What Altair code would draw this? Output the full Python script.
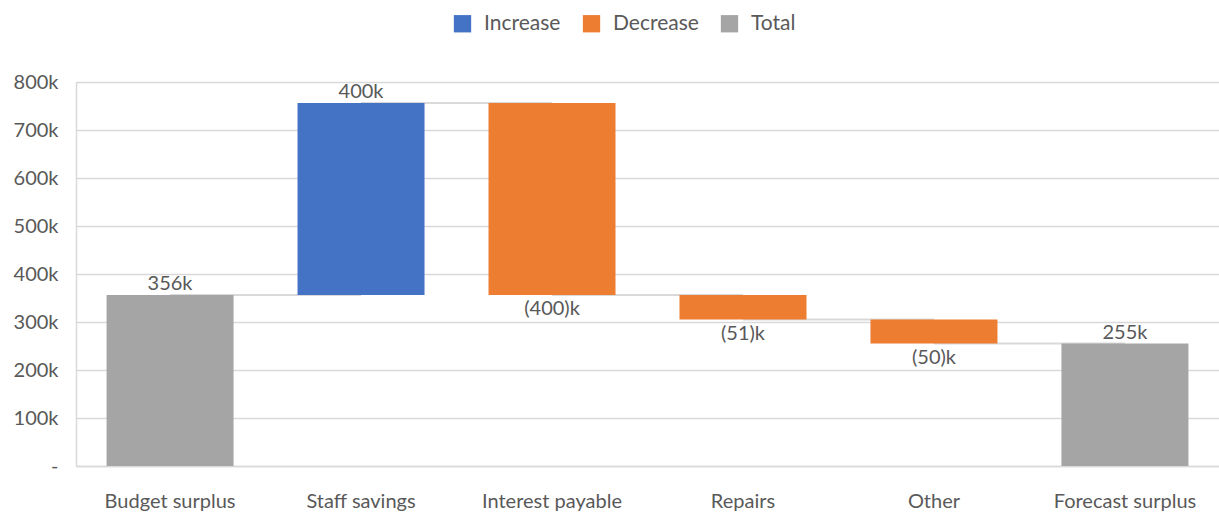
import altair as alt
import pandas as pd

categories = ["Budget surplus", "Staff savings", "Interest payable", "Repairs", "Other", "Forecast surplus"]
changes = [356000, 400000, -400000, -51000, -50000, 255000]
kinds = ["Total", "Increase", "Decrease", "Decrease", "Decrease", "Total"]
labels = ["356k", "400k", "(400)k", "(51)k", "(50)k", "255k"]

rows = []
running = 0
for cat, ch, kind, lab in zip(categories, changes, kinds, labels):
    if kind == "Total":
        start, end = 0, ch
        running = ch
    else:
        start = running
        end = running + ch
        running = end
    rows.append(dict(category=cat, start=start, end=end, kind=kind, label=lab,
                     top=max(start, end), bottom=min(start, end)))
df = pd.DataFrame(rows)

conn = pd.DataFrame([
    dict(category=categories[i], c2=categories[i + 1], y=rows[i]["end"])
    for i in range(len(categories) - 1)
])

FONT = "Lato"
TXT = "#595959"
GRID = "#d9d9d9"

xscale = alt.Scale(domain=categories, paddingInner=0.335, paddingOuter=0.16)
xaxis = alt.Axis(title=None, labelAngle=0, ticks=False, labelPadding=25,
                 labelFontSize=20, labelColor=TXT, labelFont=FONT,
                 domainColor=GRID, domainWidth=1.5)
yscale = alt.Scale(domain=[0, 800000], nice=False)

base = alt.Chart(df)

connectors = alt.Chart(conn).mark_rule(color=GRID, strokeWidth=2).encode(
    x=alt.X("category:N", scale=xscale, axis=xaxis),
    x2="c2:N",
    y=alt.Y("y:Q", scale=yscale),
)

bars = base.mark_bar().encode(
    x=alt.X("category:N", scale=xscale, axis=xaxis),
    y=alt.Y("start:Q", scale=yscale,
            axis=alt.Axis(title=None, values=[0, 100000, 200000, 300000, 400000, 500000, 600000, 700000, 800000],
                          labelExpr="datum.value == 0 ? '-' : (datum.value/1000) + 'k'",
                          ticks=False, labelPadding=18, labelFontSize=20, labelColor=TXT,
                          labelFont=FONT, gridColor=GRID, gridWidth=1.5,
                          domainColor=GRID, domainWidth=1.5)),
    y2="end:Q",
    color=alt.Color("kind:N",
                    scale=alt.Scale(domain=["Increase", "Decrease", "Total"],
                                    range=["#4472C4", "#ED7D31", "#A5A5A5"]),
                    legend=alt.Legend(title=None, orient="none", direction="horizontal",
                                      legendX=376, legendY=-69, symbolType="square",
                                      symbolSize=300, symbolStrokeWidth=0, labelFontSize=21,
                                      labelColor=TXT, labelFont=FONT, columnPadding=20,
                                      labelOffset=11)),
)

above = base.transform_filter("datum.kind != 'Decrease'").mark_text(
    baseline="bottom", dy=-1, fontSize=20, color=TXT, font=FONT
).encode(x=alt.X("category:N", scale=xscale, axis=xaxis), y=alt.Y("top:Q", scale=yscale), text="label:N")

below = base.transform_filter("datum.kind == 'Decrease'").mark_text(
    baseline="top", dy=4, fontSize=20, color=TXT, font=FONT
).encode(x=alt.X("category:N", scale=xscale, axis=xaxis), y=alt.Y("bottom:Q", scale=yscale), text="label:N")

chart = alt.layer(connectors, bars, above, below).properties(
    width=1143, height=384,
    autosize=alt.AutoSizeParams(type="none"),
    padding={"left": 76, "top": 82, "right": 0, "bottom": 46},
).configure_view(stroke=None).configure(background="white")

chart.save("out.html", embed_options={"renderer": "svg", "actions": False})
